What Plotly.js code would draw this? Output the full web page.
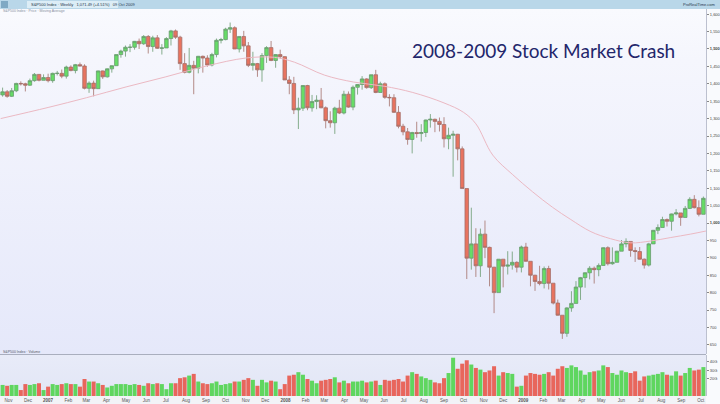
<!DOCTYPE html>
<html><head><meta charset="utf-8">
<script src="https://cdn.plot.ly/plotly-3.0.1.min.js"></script>
<style>
html,body{margin:0;padding:0;background:#fff;}
#chart{width:720px;height:404px;background:linear-gradient(to bottom,#fafbfe 0px,#f5f6fd 60px,#e5e8fa 354px,#e8ebf8 355px,#e2e6f6 396px,#f2f3f7 396px,#f2f3f7 404px);}
</style></head><body><div id="chart"></div>
<script>
const weeks = ['2006-10-23','2006-10-30','2006-11-06','2006-11-13','2006-11-20','2006-11-27','2006-12-04','2006-12-11','2006-12-18','2006-12-25',
'2007-01-01','2007-01-08','2007-01-15','2007-01-22','2007-01-29','2007-02-05','2007-02-12','2007-02-19','2007-02-26','2007-03-05','2007-03-12','2007-03-19','2007-03-26','2007-04-02','2007-04-09','2007-04-16','2007-04-23','2007-04-30','2007-05-07','2007-05-14','2007-05-21','2007-05-28','2007-06-04','2007-06-11','2007-06-18','2007-06-25','2007-07-02','2007-07-09','2007-07-16','2007-07-23','2007-07-30','2007-08-06','2007-08-13','2007-08-20','2007-08-27','2007-09-03','2007-09-10','2007-09-17','2007-09-24','2007-10-01','2007-10-08','2007-10-15','2007-10-22','2007-10-29','2007-11-05','2007-11-12','2007-11-19','2007-11-26','2007-12-03','2007-12-10','2007-12-17','2007-12-24','2007-12-31',
'2008-01-07','2008-01-14','2008-01-21','2008-01-28','2008-02-04','2008-02-11','2008-02-18','2008-02-25','2008-03-03','2008-03-10','2008-03-17','2008-03-24','2008-03-31','2008-04-07','2008-04-14','2008-04-21','2008-04-28','2008-05-05','2008-05-12','2008-05-19','2008-05-26','2008-06-02','2008-06-09','2008-06-16','2008-06-23','2008-06-30','2008-07-07','2008-07-14','2008-07-21','2008-07-28','2008-08-04','2008-08-11','2008-08-18','2008-08-25','2008-09-01','2008-09-08','2008-09-15','2008-09-22','2008-09-29','2008-10-06','2008-10-13','2008-10-20','2008-10-27','2008-11-03','2008-11-10','2008-11-17','2008-11-24','2008-12-01','2008-12-08','2008-12-15','2008-12-22','2008-12-29',
'2009-01-05','2009-01-12','2009-01-19','2009-01-26','2009-02-02','2009-02-09','2009-02-16','2009-02-23','2009-03-02','2009-03-09','2009-03-16','2009-03-23','2009-03-30','2009-04-06','2009-04-13','2009-04-20','2009-04-27','2009-05-04','2009-05-11','2009-05-18','2009-05-25','2009-06-01','2009-06-08','2009-06-15','2009-06-22','2009-06-29','2009-07-06','2009-07-13','2009-07-20','2009-07-27','2009-08-03','2009-08-10','2009-08-17','2009-08-24','2009-08-31','2009-09-07','2009-09-14','2009-09-21','2009-09-28','2009-10-05'];

const open = [1368,1377,1364,1380,1401,1400,1396,1409,1427,1410,
1418,1409,1430,1430,1422,1448,1438,1455,1451,1387,1402,1386,1437,1420,1443,1452,1484,1494,1505,1505,1522,1515,1536,1507,1532,1502,1503,1530,1552,1534,1458,1433,1453,1445,1479,1474,1454,1484,1525,1527,1557,1561,1500,1536,1509,1453,1458,1440,1481,1504,1467,1484,1478,
1411,1401,1325,1330,1395,1331,1349,1353,1331,1294,1288,1330,1316,1370,1333,1390,1398,1414,1389,1426,1375,1400,1361,1360,1318,1278,1262,1240,1260,1257,1260,1296,1298,1292,1283,1242,1252,1255,1213,1099,899,940,877,968,930,873,800,896,876,879,887,873,
931,890,850,832,826,869,827,770,735,683,756,769,816,843,857,870,866,878,929,883,887,919,940,947,921,918,896,879,940,979,987,1010,1005,1026,1029,1016,1042,1068,1044,1025];
const high = [1389,1382,1388,1403,1407,1403,1415,1431,1428,1427,
1429,1432,1437,1441,1452,1453,1457,1461,1456,1407,1409,1438,1438,1444,1453,1484,1498,1510,1514,1523,1530,1540,1540,1538,1540,1514,1534,1555,1556,1538,1488,1503,1466,1480,1481,1482,1489,1530,1532,1561,1576,1565,1536,1552,1520,1492,1460,1488,1508,1523,1485,1498,1479,
1422,1420,1360,1396,1397,1368,1367,1388,1335,1321,1334,1354,1380,1378,1395,1399,1422,1416,1426,1440,1406,1404,1370,1370,1336,1285,1273,1262,1291,1284,1297,1313,1300,1303,1304,1274,1265,1256,1220,1099,1044,985,984,1007,932,874,896,896,919,918,890,935,
943,890,851,877,875,877,827,780,735,758,804,833,845,858,876,875,884,930,933,930,920,951,956,947,930,931,898,943,980,996,1018,1013,1027,1040,1029,1049,1074,1080,1065,1076];
const low = [1363,1360,1362,1376,1395,1378,1394,1406,1407,1410,
1404,1403,1424,1416,1415,1436,1430,1450,1384,1374,1364,1386,1414,1418,1432,1452,1475,1478,1491,1498,1500,1512,1487,1492,1500,1484,1503,1510,1529,1440,1430,1430,1370,1430,1432,1449,1450,1476,1516,1525,1546,1500,1490,1492,1448,1438,1420,1406,1460,1465,1446,1472,1411,
1370,1313,1270,1322,1324,1320,1327,1330,1272,1274,1256,1313,1312,1331,1324,1369,1383,1386,1385,1373,1375,1357,1335,1316,1272,1252,1225,1200,1245,1234,1247,1274,1261,1263,1217,1212,1133,1180,1099,839,866,845,845,899,818,741,800,815,852,866,858,858,
889,818,805,821,812,809,766,734,667,673,745,769,779,814,838,826,847,877,878,880,887,919,930,903,888,895,869,875,940,968,987,990,978,1022,992,1016,1040,1042,1019,1025];
const close = [1377,1364,1380,1401,1400,1396,1409,1427,1410,1418,
1409,1430,1430,1422,1448,1438,1455,1451,1387,1402,1386,1437,1420,1443,1452,1484,1494,1505,1505,1522,1515,1536,1507,1532,1502,1503,1530,1552,1534,1458,1433,1453,1445,1479,1474,1454,1484,1525,1527,1557,1561,1500,1536,1509,1453,1458,1440,1481,1504,1467,1484,1478,1411,
1401,1325,1330,1395,1331,1349,1353,1331,1294,1288,1330,1316,1370,1333,1390,1398,1414,1389,1426,1375,1400,1361,1360,1318,1278,1262,1240,1260,1257,1260,1296,1298,1292,1283,1242,1252,1255,1213,1099,899,940,877,968,930,873,800,896,876,879,887,873,931,
890,850,832,826,869,827,770,735,683,756,769,816,843,857,870,866,878,929,883,887,919,940,947,921,918,896,879,940,979,987,1010,1005,1026,1029,1016,1042,1068,1044,1025,1071];
// weekly volume, billions of shares
const volume = [13,12,13,13,7,14,13,14,15,7,
11,14,13,14,15,14,14,11,20,17,17,15,13,10,12,14,14,14,13,14,13,12,15,14,15,14,8,15,15,21,22,24,26,17,15,14,15,17,13,14,15,17,17,19,21,19,12,19,16,18,17,8,14,
24,25,28,25,20,18,15,18,19,20,22,16,18,15,17,17,18,16,17,18,13,19,18,19,20,17,24,28,26,23,21,19,16,15,21,27,45,32,38,42,37,33,31,28,30,35,24,28,27,26,11,12,
24,27,26,25,26,28,24,32,35,33,36,34,30,25,28,29,30,36,34,27,25,30,28,27,29,18,23,24,25,26,28,25,24,29,24,27,33,30,31,34];

// moving average
const maDates = ['2006-10-20','2007-01-01','2007-03-01','2007-05-01','2007-07-01','2007-09-01','2007-11-01','2007-12-15','2008-01-15','2008-03-01','2008-04-15','2008-06-01','2008-07-15','2008-09-01','2008-10-01','2008-10-20','2008-11-15','2008-12-15','2009-01-15','2009-02-15','2009-03-15','2009-04-15','2009-05-15','2009-06-15','2009-07-15','2009-08-15','2009-09-15','2009-10-09'];
const maValues = [1300,1332,1360,1391,1420,1451,1474,1476,1462,1425,1405,1393,1375,1345,1318,1285,1195,1140,1090,1045,1010,975,955,943,948,958,968,977];

const monthTicks = ['2006-11-01','2006-12-01','2007-01-01','2007-02-01','2007-03-01','2007-04-01','2007-05-01','2007-06-01','2007-07-01','2007-08-01','2007-09-01','2007-10-01','2007-11-01','2007-12-01','2008-01-01','2008-02-01','2008-03-01','2008-04-01','2008-05-01','2008-06-01','2008-07-01','2008-08-01','2008-09-01','2008-10-01','2008-11-01','2008-12-01','2009-01-01','2009-02-01','2009-03-01','2009-04-01','2009-05-01','2009-06-01','2009-07-01','2009-08-01','2009-09-01','2009-10-01'];
const monthLabels = ['Nov','Dec','<b>2007</b>','Feb','Mar','Apr','May','Jun','Jul','Aug','Sep','Oct','Nov','Dec','<b>2008</b>','Feb','Mar','Apr','May','Jun','Jul','Aug','Sep','Oct','Nov','Dec','<b>2009</b>','Feb','Mar','Apr','May','Jun','Jul','Aug','Sep','Oct'];
const priceTicks = [650,700,750,800,850,900,950,1000,1050,1100,1150,1200,1250,1300,1350,1400,1450,1500,1550,1600];
const priceLabels = ['650','700','750','800','850','900','950','<b>1,000</b>','1,050','1,100','1,150','1,200','1,250','1,300','1,350','1,400','1,450','<b>1,500</b>','1,550','1,600'];
const volTicks = [20,30,40];
const volLabels = ['20G','30G','40G'];

const W=720,H=404,mL=0,mR=14,mT=9,mB=8;
const plotW=W-mL-mR, plotH=H-mT-mB;
const px=(x)=>(x-mL)/plotW;
const py=(y)=>1-(y-mT)/plotH;

const volColors = close.map((c,i)=> c>=open[i] ? '#5fd65f' : '#e8665c');

const traces = [
 {type:'scatter',mode:'lines',x:maDates,y:maValues,xaxis:'x',yaxis:'y',line:{color:'#ebb9c3',width:1,shape:'spline'},hoverinfo:'skip'},
 {type:'candlestick',x:weeks,open:open,high:high,low:low,close:close,xaxis:'x',yaxis:'y',
  increasing:{line:{color:'#6a9a70',width:0.8},fillcolor:'#66dd66'},
  decreasing:{line:{color:'#a3706a',width:0.8},fillcolor:'#e8735f'},
  whiskerwidth:0,hoverinfo:'skip'},
 {type:'bar',x:weeks,y:volume,xaxis:'x',yaxis:'y2',marker:{color:volColors,line:{width:0}},hoverinfo:'skip'}
];

const smallFont={family:'Liberation Sans, Arial, sans-serif',size:4,color:'#444'};
const layout = {
 width:W,height:H,margin:{l:mL,r:mR,t:mT,b:mB},
 paper_bgcolor:'rgba(0,0,0,0)',plot_bgcolor:'rgba(0,0,0,0)',
 showlegend:false,bargap:0.12,boxgap:0.22,boxgroupgap:0,
 xaxis:{type:'date',range:['2006-10-19','2009-10-09'],rangeslider:{visible:false},anchor:'y2',
   tickmode:'array',tickvals:monthTicks,ticktext:monthLabels,tickfont:{family:'Liberation Sans, Arial, sans-serif',size:4.5,color:'#555'},
   ticks:'',showgrid:false,zeroline:false,showline:false,automargin:false,tickangle:0,fixedrange:true},
 yaxis:{domain:[py(354),1],range:[623.6,1614.9],side:'right',tickmode:'array',tickvals:priceTicks,ticktext:priceLabels,
   tickfont:smallFont,ticks:'outside',ticklen:2,tickcolor:'#888',showgrid:false,zeroline:false,
   showline:true,linecolor:'#bcc0cf',linewidth:1,automargin:false,fixedrange:true},
 yaxis2:{domain:[0,py(355)],range:[0,48.2],side:'right',tickmode:'array',tickvals:volTicks,ticktext:volLabels,
   tickfont:smallFont,ticks:'outside',ticklen:2,tickcolor:'#888',showgrid:false,zeroline:false,
   showline:true,linecolor:'#bcc0cf',linewidth:1,automargin:false,fixedrange:true},
 shapes:[
  {type:'rect',xref:'paper',yref:'paper',x0:1,x1:W/plotW,y0:py(404),y1:py(9),fillcolor:'#f9fafd',line:{width:0},layer:'below'},
  {type:'line',xref:'paper',yref:'paper',x0:0,x1:1,y0:py(354.5),y1:py(354.5),line:{color:'#a9aebe',width:1}},
  {type:'rect',xref:'paper',yref:'paper',x0:0,x1:W/plotW,y0:py(9),y1:py(0),fillcolor:'#b9d7e9',line:{width:0}},
  {type:'rect',xref:'paper',yref:'paper',x0:px(27),x1:px(118),y0:py(8),y1:py(1),fillcolor:'#dcedf6',line:{width:0}},
  {type:'rect',xref:'paper',yref:'paper',x0:px(1),x1:px(8),y0:py(8),y1:py(1),fillcolor:'#7fa9c4',line:{width:0}}
 ],
 annotations:[
  {text:'2008-2009 Stock Market Crash',xref:'paper',yref:'paper',x:px(543),y:py(51),xanchor:'center',yanchor:'middle',showarrow:false,
   font:{family:'Lato, Open Sans, sans-serif',size:19,color:'#23266b'}},
  {text:'S&P500 Index · Weekly   1,071.49 (+4.51%)   09 Oct 2009',xref:'paper',yref:'paper',x:px(29),y:py(4.5),xanchor:'left',yanchor:'middle',showarrow:false,
   font:{family:'Liberation Sans, Arial, sans-serif',size:4,color:'#23364a'}},
  {text:'S&P500 Index · Price · Moving Average',xref:'paper',yref:'paper',x:px(1),y:py(11),xanchor:'left',yanchor:'middle',showarrow:false,
   font:{family:'Liberation Sans, Arial, sans-serif',size:3.5,color:'#8890a0'}},
  {text:'ProRealTime.com',xref:'paper',yref:'paper',x:px(718),y:py(4.5),xanchor:'right',yanchor:'middle',showarrow:false,
   font:{family:'Liberation Sans, Arial, sans-serif',size:4,color:'#2a3a4c'}},
  {text:'S&P500 Index · Volume',xref:'paper',yref:'paper',x:px(1),y:py(351.5),xanchor:'left',yanchor:'middle',showarrow:false,
   font:{family:'Liberation Sans, Arial, sans-serif',size:3.5,color:'#555a66'}}
 ]
};
Plotly.newPlot('chart',traces,layout,{staticPlot:true,displayModeBar:false});
</script></body></html>
